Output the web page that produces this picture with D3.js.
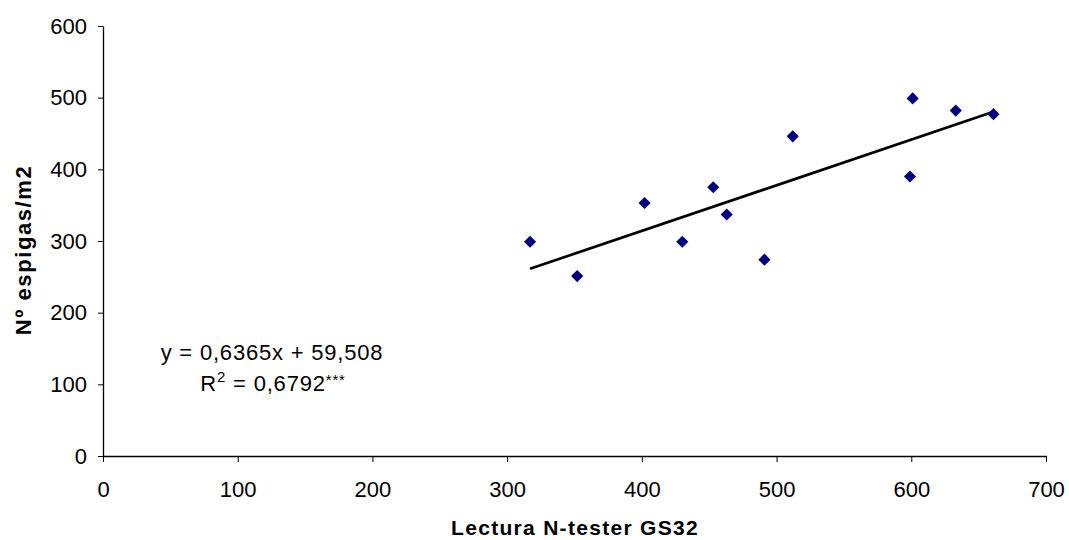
<!DOCTYPE html>
<html>
<head>
<meta charset="utf-8">
<script src="https://cdn.jsdelivr.net/npm/d3@7"></script>
<style>
	body { margin: 0; background: #fff; }
	svg { display: block; font-family: "Liberation Sans", Arial, sans-serif; }
</style>
</head>
<body>
<svg></svg>
<script>
// values
const lectura = [317, 352, 402, 430, 453, 463, 491, 512, 601, 599, 633, 661];
const espigas = [299, 251, 353, 299, 375, 337, 274, 446, 499, 390, 482, 477];
const xTicks = [0, 100, 200, 300, 400, 500, 600, 700];
const yTicks = [0, 100, 200, 300, 400, 500, 600];
const slope = 0.6365;
const intercept = 59.508;
const eqText = "y = 0,6365x + 59,508";

const width = 1069;
const height = 540;

let xScale = d3.scaleLinear()
	.domain([0, 700])
	.range([103, 1046]);

let yScale = d3.scaleLinear()
	.domain([0, 600])
	.range([456, 26]);

let svg = d3.select("svg")
	.attr("width", width)
	.attr("height", height);

let xAxis = d3.axisBottom(xScale)
	.tickValues(xTicks)
	.tickSize(6)
	.tickSizeOuter(0)
	.tickPadding(19);

let yAxis = d3.axisLeft(yScale)
	.tickValues(yTicks)
	.tickSize(5)
	.tickSizeOuter(0)
	.tickPadding(11);

svg.append("g")
	.attr("transform", `translate(0, ${yScale(0)})`)
	.call(xAxis)
	.call(g => g.select(".domain").attr("stroke-width", 1.3))
	.selectAll("text")
		.style("font-size", "22px")
		.attr("fill", "#000");

svg.append("g")
	.attr("transform", `translate(${xScale(0)}, 0)`)
	.call(yAxis)
	.call(g => g.select(".domain").attr("stroke-width", 1.3))
	.selectAll("text")
		.style("font-size", "22px")
		.attr("fill", "#000");

// linear trend over the range of the data
let xMin = d3.min(lectura), xMax = d3.max(lectura);
svg.append("line")
	.attr("x1", xScale(xMin))
	.attr("y1", yScale(slope * xMin + intercept))
	.attr("x2", xScale(xMax))
	.attr("y2", yScale(slope * xMax + intercept))
	.attr("stroke", "#000")
	.attr("stroke-width", 2.7);

let points = lectura.map((d, i) => ({ x: d, y: espigas[i] }));

svg.selectAll(".dot")
	.data(points)
	.enter()
	.append("rect")
		.classed("dot", true)
		.attr("x", -4.3)
		.attr("y", -4.3)
		.attr("width", 8.6)
		.attr("height", 8.6)
		.attr("transform", d => `translate(${xScale(d.x)}, ${yScale(d.y)}) rotate(45)`)
		.attr("fill", "#000080");

// equation labels
svg.append("text")
	.attr("x", 272)
	.attr("y", 360)
	.style("text-anchor", "middle")
	.style("font-size", "22px")
	.style("letter-spacing", "0.8px")
	.text(eqText);

let r2 = svg.append("text")
	.attr("x", 273)
	.attr("y", 391)
	.style("text-anchor", "middle")
	.style("font-size", "22px")
	.style("letter-spacing", "0.8px");
r2.append("tspan").text("R");
r2.append("tspan").attr("dy", -9).style("font-size", "15px").text("2");
r2.append("tspan").attr("dy", 9).text(" = 0,6792");
r2.append("tspan").attr("dy", -6).style("font-size", "15px").text("***");

// axis titles
svg.append("text")
	.attr("x", 575)
	.attr("y", 535)
	.style("text-anchor", "middle")
	.style("font-size", "21px")
	.style("font-weight", "bold")
	.style("letter-spacing", "1.3px")
	.text("Lectura N-tester GS32");

svg.append("text")
	.attr("transform", "rotate(-90)")
	.attr("x", -250)
	.attr("y", 31)
	.style("text-anchor", "middle")
	.style("font-size", "22px")
	.style("font-weight", "bold")
	.style("letter-spacing", "1.6px")
	.text("Nº espigas/m2");
</script>
</body>
</html>
